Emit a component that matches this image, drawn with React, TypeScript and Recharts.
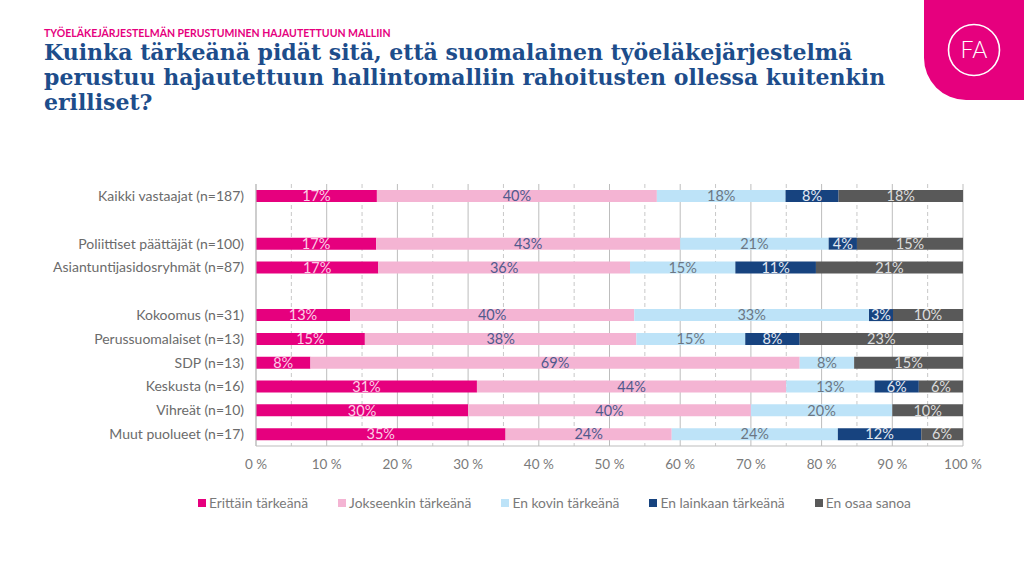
import {
  BarChart,
  Bar,
  XAxis,
  YAxis,
  CartesianGrid,
  LabelList,
} from "recharts";

// rivit (tyhjät nimet = välit ryhmien välissä)
const categories = [
  "Kaikki vastaajat (n=187)",
  " ",
  "Poliittiset päättäjät (n=100)",
  "Asiantuntijasidosryhmät (n=87)",
  "  ",
  "Kokoomus (n=31)",
  "Perussuomalaiset (n=13)",
  "SDP (n=13)",
  "Keskusta (n=16)",
  "Vihreät (n=10)",
  "Muut puolueet (n=17)",
];

const erittain = [17.1, 0, 17, 17.3, 0, 13.3, 15.4, 7.7, 31.25, 30, 35.3];
const jokseenkin = [39.6, 0, 43, 35.6, 0, 40.2, 38.4, 69.2, 43.75, 40, 23.5];
const enKovin = [18.2, 0, 21, 14.9, 0, 33.2, 15.4, 7.7, 12.5, 20, 23.5];
const enLainkaan = [7.5, 0, 4, 11.4, 0, 3.4, 7.7, 0, 6.25, 0, 11.8];
const enOsaa = [17.6, 0, 15, 20.8, 0, 9.9, 23.1, 15.4, 6.25, 10, 5.9];

const xTicks = [0, 10, 20, 30, 40, 50, 60, 70, 80, 90, 100];
const minorTicks = [5, 15, 25, 35, 45, 55, 65, 75, 85, 95];

const series = [
  { key: "erittain", name: "Erittäin tärkeänä", color: "#e6007e", text: "#fbd0e6" },
  { key: "jokseenkin", name: "Jokseenkin tärkeänä", color: "#f4b4d3", text: "#4f5a8c" },
  { key: "enKovin", name: "En kovin tärkeänä", color: "#bde3f8", text: "#6b7784" },
  { key: "enLainkaan", name: "En lainkaan tärkeänä", color: "#17437f", text: "#e3e9f2" },
  { key: "enOsaa", name: "En osaa sanoa", color: "#595959", text: "#dcdcdc" },
];

const data = categories.map((name, i) => ({
  name,
  erittain: erittain[i],
  jokseenkin: jokseenkin[i],
  enKovin: enKovin[i],
  enLainkaan: enLainkaan[i],
  enOsaa: enOsaa[i],
}));

const SANS = "Lato, 'Open Sans', sans-serif";

const pct = (v: any) => (v > 0 ? `${Math.round(v)}%` : "");

export default function App() {
  return (
    <div
      style={{
        position: "fixed",
        left: 0,
        top: 0,
        width: 1024,
        height: 576,
        background: "#fff",
        overflow: "hidden",
        fontFamily: SANS,
      }}
    >
      <div
        style={{
          position: "absolute",
          left: 44,
          top: 27,
          fontSize: 10.5,
          lineHeight: "13px",
          fontWeight: 700,
          color: "#e6007e",
        }}
      >
        TYÖELÄKEJÄRJESTELMÄN PERUSTUMINEN HAJAUTETTUUN MALLIIN
      </div>
      <div
        style={{
          position: "absolute",
          left: 44,
          top: 40,
          width: 880,
          fontFamily: "'DejaVu Serif', serif",
          fontWeight: 700,
          fontSize: 22,
          lineHeight: "25px",
          color: "#1d4d8b",
        }}
      >
        Kuinka tärkeänä pidät sitä, että suomalainen työeläkejärjestelmä
        <br />
        perustuu hajautettuun hallintomalliin rahoitusten ollessa kuitenkin
        <br />
        erilliset?
      </div>

      <svg
        width={100}
        height={100}
        style={{ position: "absolute", left: 924, top: 0 }}
      >
        <path d="M0 0 H100 V100 H42 A42 42 0 0 1 0 58 Z" fill="#e6007e" />
        <circle cx={50} cy={50} r={25.5} fill="none" stroke="#fff" strokeWidth={1.6} />
        <text
          x={50}
          y={58}
          textAnchor="middle"
          fill="#fff"
          fontSize={23}
          fontWeight={300}
          fontFamily={SANS}
        >
          FA
        </text>
      </svg>

      <div style={{ position: "absolute", left: 0, top: 0 }}>
        <BarChart
          width={1024}
          height={576}
          data={data}
          layout="vertical"
          margin={{ top: 184, right: 61, left: 0, bottom: 100 }}
        >
          <CartesianGrid
            horizontal={false}
            verticalValues={minorTicks}
            stroke="#c8c8c8"
            strokeDasharray="4 3"
          />
          <CartesianGrid
            horizontal={false}
            verticalValues={xTicks}
            stroke="#bdbdbd"
          />
          <XAxis
            type="number"
            domain={[0, 100]}
            ticks={xTicks}
            tickFormatter={(v) => `${v} %`}
            axisLine={{ stroke: "#bdbdbd" }}
            tickLine={false}
            tickSize={0}
            tickMargin={13}
            height={30}
            tick={{ fill: "#7a7a7a", fontSize: 13.5, fontFamily: SANS }}
          />
          <XAxis
            xAxisId="top"
            orientation="top"
            type="number"
            domain={[0, 100]}
            tick={false}
            tickLine={false}
            height={0}
            axisLine={{ stroke: "#bdbdbd" }}
          />
          <YAxis
            type="category"
            dataKey="name"
            width={256}
            axisLine={{ stroke: "#bdbdbd" }}
            tickLine={false}
            tickSize={0}
            tickMargin={12}
            interval={0}
            tick={{ fill: "#6b6b6b", fontSize: 14, fontFamily: SANS }}
          />
          {series.map((s) => (
            <Bar
              key={s.key}
              dataKey={s.key}
              name={s.name}
              stackId="a"
              fill={s.color}
              barSize={12}
              isAnimationActive={false}
            >
              <LabelList
                dataKey={s.key}
                position="center"
                formatter={pct}
                fill={s.text}
                fontSize={14.5}
                fontFamily={SANS}
              />
            </Bar>
          ))}
        </BarChart>
      </div>

      <div
        style={{
          position: "absolute",
          left: 198,
          top: 494,
          display: "flex",
          fontSize: 13.8,
          lineHeight: "18px",
          color: "#7a7a7a",
        }}
      >
        {series.map((s) => (
          <div
            key={s.key}
            style={{ display: "flex", alignItems: "center", marginRight: 30 }}
          >
            <span
              style={{
                display: "inline-block",
                width: 8,
                height: 8,
                background: s.color,
                marginRight: 3,
              }}
            />
            {s.name}
          </div>
        ))}
      </div>
    </div>
  );
}
